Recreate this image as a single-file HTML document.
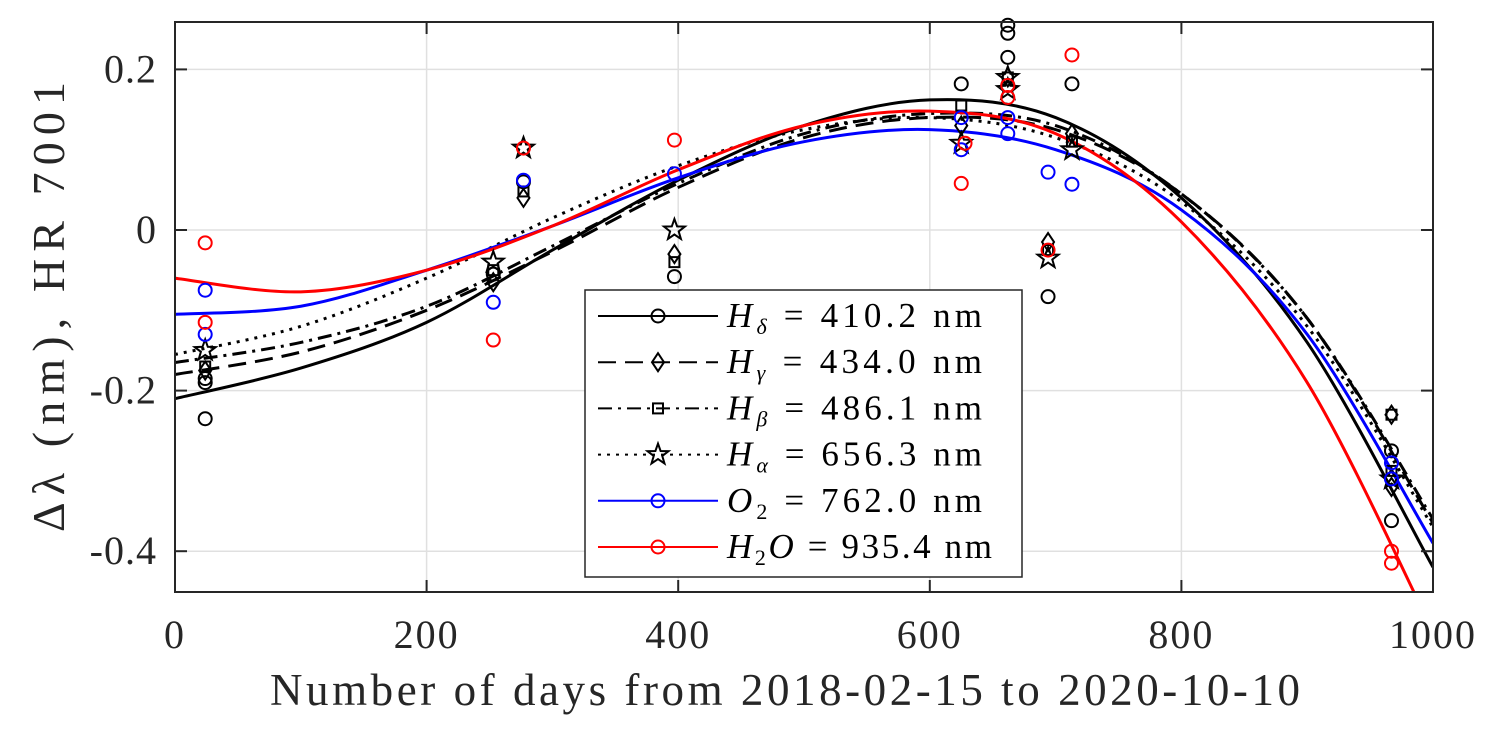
<!DOCTYPE html>
<html><head><meta charset="utf-8"><style>
html,body{margin:0;padding:0;background:#fff;}
svg{display:block;font-family:"Liberation Serif",serif;}
</style></head><body>
<svg id="chart" width="1495" height="737">
<rect x="0" y="0" width="1495" height="737" fill="#fff"/>
<g id="grid"></g>
<defs><clipPath id="clip"><rect x="175" y="22" width="1258" height="570"/></clipPath></defs>
<g id="curves" clip-path="url(#clip)"></g>
<g id="points"></g>
<rect x="175" y="22" width="1258" height="570" fill="none" stroke="#262626" stroke-width="2"/>
<g id="ticks"></g>
<text x="785" y="705" text-anchor="middle" font-size="45" fill="#262626" textLength="1030" lengthAdjust="spacing">Number of days from 2018-02-15 to 2020-10-10</text>
<text transform="translate(64,307) rotate(-90)" text-anchor="middle" font-size="46" fill="#262626" textLength="450" lengthAdjust="spacing">Δλ (nm), HR 7001</text>
<g id="legend"></g>
</svg>
<script>
const xTicks=[0,200,400,600,800,1000];
const yTicks=[0.2,0,-0.2,-0.4];
const yTickLabels=["0.2","0","-0.2","-0.4"];
const curveDays=[0,100,200,300,400,500,600,700,800,900,1000];
const fitHd=[-0.21,-0.172,-0.115,-0.025,0.062,0.13,0.162,0.14,0.04,-0.14,-0.42];
const fitHg=[-0.18,-0.152,-0.1,-0.027,0.053,0.115,0.14,0.125,0.045,-0.11,-0.365];
const fitHb=[-0.165,-0.14,-0.095,-0.02,0.058,0.12,0.145,0.13,0.045,-0.11,-0.36];
const fitHa=[-0.155,-0.12,-0.06,0.015,0.08,0.125,0.14,0.115,0.035,-0.12,-0.37];
const fitO2=[-0.105,-0.095,-0.05,0.005,0.065,0.11,0.125,0.1,0.025,-0.13,-0.39];
const fitH2O=[-0.06,-0.077,-0.05,0.005,0.075,0.13,0.148,0.12,0.01,-0.19,-0.5];
const ptsHdX=[24,24,24,253,277,397,625,662,662,662,662,694,713,967,967];
const ptsHdY=[-0.185,-0.19,-0.235,-0.055,0.06,-0.058,0.182,0.255,0.245,0.215,0.18,-0.083,0.182,-0.275,-0.362];
const ptsHgX=[24,253,277,397,625,662,694,713,967,967];
const ptsHgY=[-0.175,-0.065,0.04,-0.03,0.13,0.19,-0.015,0.12,-0.23,-0.32];
const ptsHbX=[24,253,277,397,625,662,694,713,967,967];
const ptsHbY=[-0.17,-0.05,0.048,-0.04,0.155,0.19,-0.025,0.11,-0.23,-0.3];
const ptsHaX=[24,253,277,397,625,662,662,694,713,967];
const ptsHaY=[-0.15,-0.04,0.102,0.0,0.108,0.175,0.19,-0.035,0.1,-0.31];
const ptsO2X=[24,24,253,277,397,625,625,662,662,694,713,967,967];
const ptsO2Y=[-0.075,-0.13,-0.09,0.062,0.07,0.1,0.14,0.14,0.12,0.072,0.057,-0.29,-0.31];
const ptsH2OX=[24,24,253,277,397,625,628,662,662,694,713,967,967];
const ptsH2OY=[-0.016,-0.115,-0.137,0.102,0.112,0.058,0.108,0.18,0.165,-0.025,0.218,-0.4,-0.415];
const legendLabels=[["H","δ"," = 410.2 nm"],["H","γ"," = 434.0 nm"],["H","β"," = 486.1 nm"],["H","α"," = 656.3 nm"],["O","2"," = 762.0 nm"],["H","2","O = 935.4 nm"]];

const NS="http://www.w3.org/2000/svg";
const X=d=>175+d*1.258;
const Y=v=>230-v*803;
function mk(tag,attrs,parent){const e=document.createElementNS(NS,tag);for(const k in attrs)e.setAttribute(k,attrs[k]);parent.appendChild(e);return e;}
const grid=document.getElementById('grid'),ticks=document.getElementById('ticks');
xTicks.forEach(t=>{
  const l=mk('line',{x1:X(t),x2:X(t),y1:22,y2:592,stroke:'#e0e0e0','stroke-width':1.5},grid);
  
  
  mk('line',{x1:X(t),x2:X(t),y1:592,y2:580,stroke:'#262626','stroke-width':2},ticks);
  mk('line',{x1:X(t),x2:X(t),y1:22,y2:34,stroke:'#262626','stroke-width':2},ticks);
  const tx=mk('text',{x:X(t),y:648,'text-anchor':'middle','font-size':40,fill:'#262626','letter-spacing':2},ticks);
  tx.textContent=t;
  
  
});
yTicks.forEach((t,i)=>{
  const l=mk('line',{x1:175,x2:1433,y1:Y(t),y2:Y(t),stroke:'#e0e0e0','stroke-width':1.5},grid);
  
  
  mk('line',{x1:175,x2:187,y1:Y(t),y2:Y(t),stroke:'#262626','stroke-width':2},ticks);
  mk('line',{x1:1421,x2:1433,y1:Y(t),y2:Y(t),stroke:'#262626','stroke-width':2},ticks);
  const tx=mk('text',{x:157,y:Y(t)+13,'text-anchor':'end','font-size':40,fill:'#262626','letter-spacing':1},ticks);
  tx.textContent=yTickLabels[i];
  
  
});
function smooth(xs,ys){
  const p=xs.map((x,i)=>[X(x),Y(ys[i])]);
  let d='M'+p[0][0]+','+p[0][1];
  for(let i=0;i<p.length-1;i++){
    const p0=p[Math.max(0,i-1)],p1=p[i],p2=p[i+1],p3=p[Math.min(p.length-1,i+2)];
    d+=' C'+(p1[0]+(p2[0]-p0[0])/6)+','+(p1[1]+(p2[1]-p0[1])/6)+' '+(p2[0]-(p3[0]-p1[0])/6)+','+(p2[1]-(p3[1]-p1[1])/6)+' '+p2[0]+','+p2[1];
  }
  return d;
}
const series=[
 {name:'h-delta',fit:fitHd,px:ptsHdX,py:ptsHdY,color:'#000',dash:'',marker:'circle'},
 {name:'h-gamma',fit:fitHg,px:ptsHgX,py:ptsHgY,color:'#000',dash:'18,9',marker:'diamond'},
 {name:'h-beta',fit:fitHb,px:ptsHbX,py:ptsHbY,color:'#000',dash:'14,6,3,6',marker:'square'},
 {name:'h-alpha',fit:fitHa,px:ptsHaX,py:ptsHaY,color:'#000',dash:'3,6',marker:'star'},
 {name:'o2',fit:fitO2,px:ptsO2X,py:ptsO2Y,color:'#0000ff',dash:'',marker:'circle'},
 {name:'h2o',fit:fitH2O,px:ptsH2OX,py:ptsH2OY,color:'#ff0000',dash:'',marker:'circle'}
];
function marker(type,x,y,color,parent){
  let e;
  if(type==='circle') e=mk('circle',{cx:x,cy:y,r:6.5,fill:'none',stroke:color,'stroke-width':2},parent);
  else if(type==='diamond') e=mk('polygon',{points:`${x},${y-9} ${x+6},${y} ${x},${y+9} ${x-6},${y}`,fill:'none',stroke:color,'stroke-width':2},parent);
  else if(type==='square') e=mk('rect',{x:x-5,y:y-5,width:10,height:10,fill:'none',stroke:color,'stroke-width':2},parent);
  else {let pts=[];for(let k=0;k<10;k++){const r=k%2?4.5:11,a=-Math.PI/2+k*Math.PI/5;pts.push((x+r*Math.cos(a)).toFixed(1)+','+(y+r*Math.sin(a)).toFixed(1));}
    e=mk('polygon',{points:pts.join(' '),fill:'none',stroke:color,'stroke-width':2},parent);}
  return e;
}
const cg=document.getElementById('curves'),pg=document.getElementById('points');
series.forEach(s=>{
  const p=mk('path',{d:smooth(curveDays,s.fit),fill:'none',stroke:s.color,'stroke-width':3,'stroke-dasharray':s.dash},cg);
  
  
});
series.forEach(s=>{
  s.px.forEach((d,i)=>{
    const m=marker(s.marker,X(d),Y(s.py[i]),s.color,pg);
    
    
  });
});
const lg=document.getElementById('legend');
const box=mk('rect',{x:585,y:290,width:437,height:287,fill:'#fff',stroke:'#262626','stroke-width':1.5},lg);


series.forEach((s,i)=>{
  const y=316+i*46.2;
  const g=mk('g',{},lg);
  
  
  mk('line',{x1:598,x2:718,y1:y,y2:y,stroke:s.color,'stroke-width':2,'stroke-dasharray':s.dash},g);
  marker(s.marker,658,y,s.color,g);
  const t=mk('text',{x:727,y:y+11,'font-size':35,fill:'#000',textLength:(i===5?265:255),lengthAdjust:'spacing'},g);
  const l=legendLabels[i];
  const a=mk('tspan',{'font-style':'italic'},t);a.textContent=l[0];
  const b=mk('tspan',{'font-size':22,dy:7,'font-style':(i>=4?'normal':'italic')},t);b.textContent=l[1];
  const c=mk('tspan',{dy:-7},t);
  if(i===5){const o=mk('tspan',{'font-style':'italic'},t);o.textContent='O';o.setAttribute('dy','-7');b.after(o);c.textContent=' = 935.4 nm';c.setAttribute('dy','0');}
  else c.textContent=l[2];
});
</script>
</body></html>
